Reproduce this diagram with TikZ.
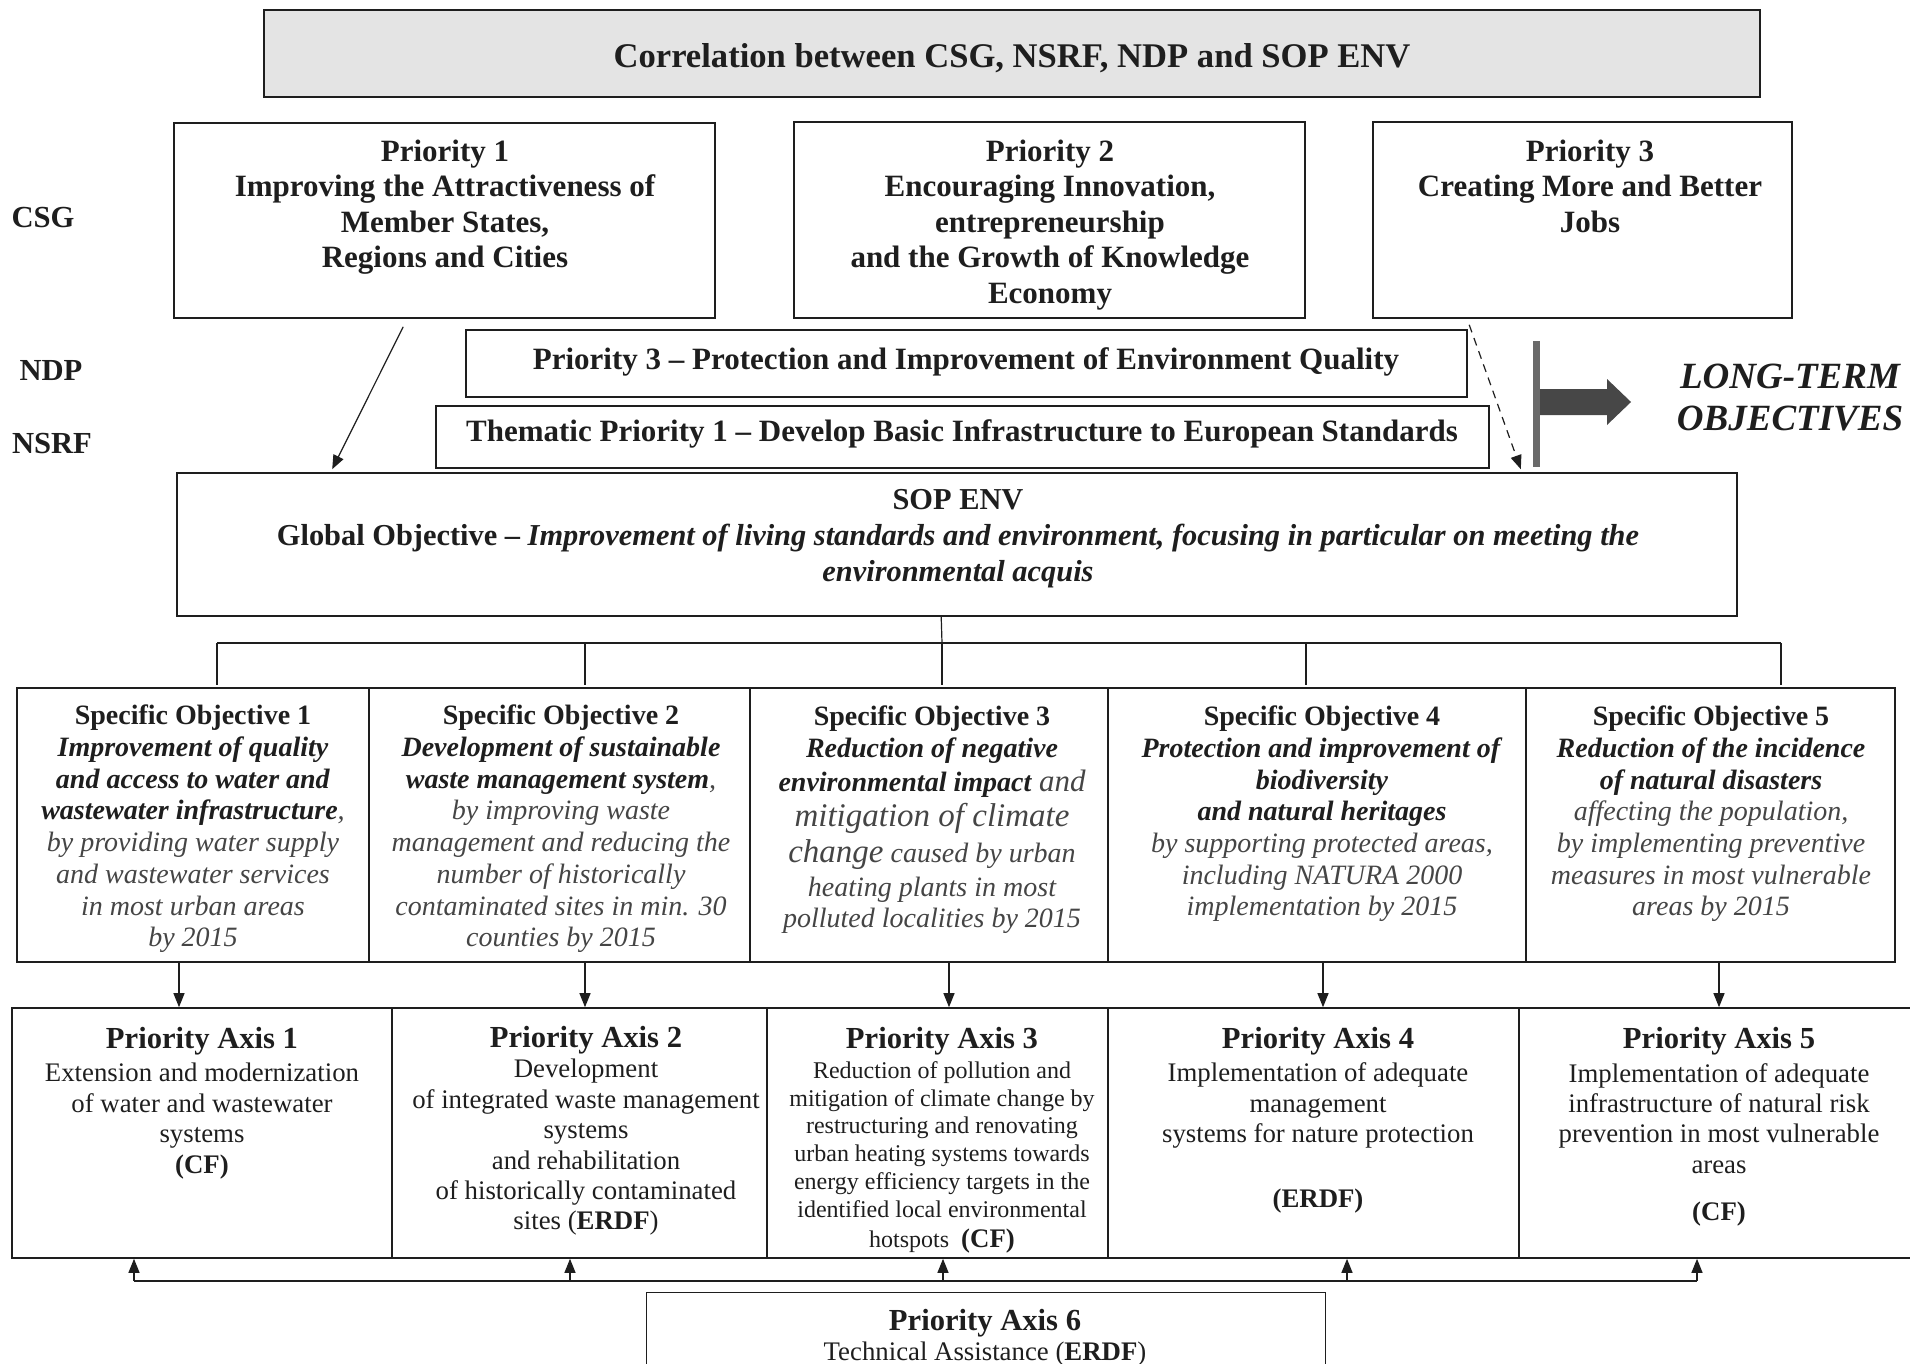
\documentclass[tikz,border=0pt]{standalone}
\usepackage{fontspec}
\setmainfont{Liberation Serif}
\usetikzlibrary{arrows.meta,calc,fit}
\definecolor{ink}{HTML}{1E1E1E}
\definecolor{soft}{HTML}{454545}
\definecolor{titlefill}{HTML}{E4E4E4}
\definecolor{barfill}{HTML}{6A6A6A}
\definecolor{arrowfill}{HTML}{474747}
\newcommand{\fsz}[2]{\fontsize{#1}{#2}\selectfont}
\newcommand{\bitext}[1]{\textbf{\textit{#1}}}
\newcommand{\softit}[1]{{\color{soft}\itshape #1}}
\begin{document}
\begin{tikzpicture}[x=0.5pt,y=-0.5pt,
  box/.style={draw=ink,line width=0.8pt,rectangle,inner sep=0pt},
  txt/.style={align=center,inner sep=0pt,text=ink},
  conn/.style={draw=ink,line width=0.6pt},
  arr/.style={conn,-{Triangle[length=7pt,width=5.5pt]}},
  hdr/.style={txt,font=\bfseries\fsz{15.5}{17.75}},
  sotxt/.style={txt,font=\fsz{14}{15.85}},
  patxt/.style={txt,font=\fsz{13.4}{15.2}},
]
\useasboundingbox (0,0) rectangle (1910,1364);

% title
\node[box,fill=titlefill,fit={(264,10) (1760,97)}] (title) {};
\node[txt,font=\bfseries\fsz{17.3}{20}] (ttitle) at (1012,58) {Correlation between CSG, NSRF, NDP and SOP ENV};

% row labels
\node[txt,font=\bfseries\fsz{15.3}{18}] (lcsg) at (43,218) {CSG};
\node[txt,font=\bfseries\fsz{15.3}{18}] (lndp) at (51,371) {NDP};
\node[txt,font=\bfseries\fsz{15.3}{18}] (lnsrf) at (52,444) {NSRF};

% CSG priorities
\node[box,fit={(174,123) (715,318)}] (p1) {};
\node[hdr] (tp1) at (445,207) {Priority 1\\Improving the Attractiveness of\\Member States,\\Regions and Cities};
\node[box,fit={(794,122) (1305,318)}] (p2) {};
\node[hdr] (tp2) at (1050,225) {Priority 2\\Encouraging Innovation,\\entrepreneurship\\and the Growth of Knowledge\\Economy};
\node[box,fit={(1373,122) (1792,318)}] (p3) {};
\node[hdr] (tp3) at (1590,186) {Priority 3\\Creating More and Better\\Jobs};

% NDP / NSRF
\node[box,fit={(466,330) (1467,397)}] (ndp) {};
\node[hdr] (tndp) at (966,362) {Priority 3 -- Protection and Improvement of Environment Quality};
\node[box,fit={(436,406) (1489,468)}] (nsrf) {};
\node[hdr] (tnsrf) at (962,434) {Thematic Priority 1 -- Develop Basic Infrastructure to European Standards};

% SOP ENV
\node[box,fit={(177,473) (1737,616)}] (sop) {};
\node[txt,font=\bfseries\fsz{15.2}{18}] (tsop) at (958,539) {SOP ENV\\Global Objective -- \textit{Improvement of living standards and environment, focusing in particular on meeting the}\\\textit{environmental acquis}};

% long-term objectives
\fill[barfill] (1533,341) rectangle (1540,467);
\fill[arrowfill] (1540,389) -- (1607,389) -- (1607,379) -- (1631,402) -- (1607,425) -- (1607,415) -- (1540,415) -- cycle;
\node[txt,font=\bfseries\itshape\fsz{18.5}{21}] (tlong) at (1790,398) {LONG-TERM\\OBJECTIVES};

% arrows into SOP ENV
\draw[arr] ($(p1.south west)+(230,8)$) -- ($(sop.north west)+(156,-3)$);
\draw[arr,dash pattern=on 4pt off 3pt] ($(p3.south west)+(97,6)$) -- ($(sop.north east)+(-217,-3)$);

% specific objectives
\node[box,fit={(17,688) (369,962)}] (so1) {};
\node[box,fit={(369,688) (750,962)}] (so2) {};
\node[box,fit={(750,688) (1108,962)}] (so3) {};
\node[box,fit={(1108,688) (1526,962)}] (so4) {};
\node[box,fit={(1526,688) (1895,962)}] (so5) {};

\node[sotxt] (tso1) at (193,829) {\textbf{Specific Objective 1}\\\bitext{Improvement of quality}\\\bitext{and access to water and}\\\bitext{wastewater infrastructure}\softit{,}\\\softit{by providing water supply}\\\softit{and wastewater services}\\\softit{in most urban areas}\\\softit{by 2015}};
\node[sotxt] (tso2) at (561,829) {\textbf{Specific Objective 2}\\\bitext{Development of sustainable}\\\bitext{waste management system}\softit{,}\\\softit{by improving waste}\\\softit{management and reducing the}\\\softit{number of historically}\\\softit{contaminated sites in min. 30}\\\softit{counties by 2015}};
\node[sotxt] (tso3) at (932,820) {\textbf{Specific Objective 3}\\\bitext{Reduction of negative}\\[1pt]\bitext{environmental impact} {\fsz{15.5}{16}\softit{and}}\\[2pt]{\fsz{16.5}{17}\softit{mitigation of climate}}\\[2pt]{\fsz{16.5}{17}\softit{change}} \softit{caused by urban}\\[1pt]\softit{heating plants in most}\\\softit{polluted localities by 2015}};
\node[sotxt] (tso4) at (1322,814) {\textbf{Specific Objective 4}\\\bitext{Protection and improvement of}\\\bitext{biodiversity}\\\bitext{and natural heritages}\\\softit{by supporting protected areas,}\\\softit{including NATURA 2000}\\\softit{implementation by 2015}};
\node[sotxt] (tso5) at (1711,814) {\textbf{Specific Objective 5}\\\bitext{Reduction of the incidence}\\\bitext{of natural disasters}\\\softit{affecting the population,}\\\softit{by implementing preventive}\\\softit{measures in most vulnerable}\\\softit{areas by 2015}};

% tree from SOP ENV to specific objectives
\coordinate (tb) at (942,643);
\coordinate (bl) at (217,643);
\coordinate (br) at (1781,643);
\coordinate (d2) at (585,643);
\coordinate (d4) at (1306,643);
\draw[conn] ($(sop.south west)+(765,0)$) -- (tb);
\draw[conn] (bl) -- (br);
\draw[conn] (bl) -- ($(bl |- so1.north)+(0,-2)$);
\draw[conn] (d2) -- ($(d2 |- so2.north)+(0,-2)$);
\draw[conn] (tb) -- ($(tb |- so3.north)+(0,-2)$);
\draw[conn] (d4) -- ($(d4 |- so4.north)+(0,-2)$);
\draw[conn] (br) -- ($(br |- so5.north)+(0,-2)$);

% priority axes
\node[box,fit={(12,1008) (392,1258)}] (pa1) {};
\node[box,fit={(392,1008) (767,1258)}] (pa2) {};
\node[box,fit={(767,1008) (1108,1258)}] (pa3) {};
\node[box,fit={(1108,1008) (1519,1258)}] (pa4) {};
\node[box,fit={(1519,1008) (1914,1258)}] (pa5) {};

\node[patxt] (tpa1) at (202,1103) {{\bfseries\fsz{15.3}{17}Priority Axis 1}\\[1.5pt]Extension and modernization\\of water and wastewater\\systems\\\textbf{(CF)}};
\node[patxt] (tpa2) at (586,1131) {{\bfseries\fsz{15.3}{17}Priority Axis 2}\\Development\\of integrated waste management\\systems\\and rehabilitation\\of historically contaminated\\sites (\textbf{ERDF})};
\node[txt,font=\fsz{12}{13.9}] (tpa3) at (942,1140) {{\bfseries\fsz{15.3}{17}Priority Axis 3}\\[1pt]Reduction of pollution and\\mitigation of climate change by\\restructuring and renovating\\urban heating systems towards\\energy efficiency targets in the\\identified local environmental\\[1pt]hotspots\ \ {\fsz{13.4}{15}\textbf{(CF)}}};
\node[patxt] (tpa4) at (1318,1120) {{\bfseries\fsz{15.3}{17}Priority Axis 4}\\[1.5pt]Implementation of adequate\\management\\systems for nature protection\\[17pt]\textbf{(ERDF)}};
\node[patxt] (tpa5) at (1719,1127) {{\bfseries\fsz{15.3}{17}Priority Axis 5}\\[1.5pt]Implementation of adequate\\infrastructure of natural risk\\prevention in most vulnerable\\areas\\[8.5pt]\textbf{(CF)}};

% arrows SO -> PA
\coordinate (x1) at (179,0);
\coordinate (x2) at (585,0);
\coordinate (x3) at (949,0);
\coordinate (x4) at (1323,0);
\coordinate (x5) at (1719,0);
\draw[arr] (x1 |- so1.south) -- (x1 |- pa1.north);
\draw[arr] (x2 |- so2.south) -- (x2 |- pa2.north);
\draw[arr] (x3 |- so3.south) -- (x3 |- pa3.north);
\draw[arr] (x4 |- so4.south) -- (x4 |- pa4.north);
\draw[arr] (x5 |- so5.south) -- (x5 |- pa5.north);

% priority axis 6 and its links
\node[inner sep=0pt,fit={(647,1293) (1325,1364)}] (pa6) {};
\draw[box] (pa6.south west) -- (pa6.north west) -- (pa6.north east) -- (pa6.south east);
\node[patxt] (tpa6) at (985,1338) {{\bfseries\fsz{15.3}{17}Priority Axis 6}\\Technical Assistance (\textbf{ERDF})};

\coordinate (u1) at (134,1281);
\coordinate (u2) at (570,1281);
\coordinate (u3) at (943,1281);
\coordinate (u4) at (1347,1281);
\coordinate (u5) at (1697,1281);
\draw[conn] (u1) -- (u5);
\draw[arr] (u1) -- (u1 |- pa1.south);
\draw[arr] (u2) -- (u2 |- pa2.south);
\draw[arr] (u3) -- (u3 |- pa3.south);
\draw[arr] (u4) -- (u4 |- pa4.south);
\draw[arr] (u5) -- (u5 |- pa5.south);
\end{tikzpicture}
\end{document}
